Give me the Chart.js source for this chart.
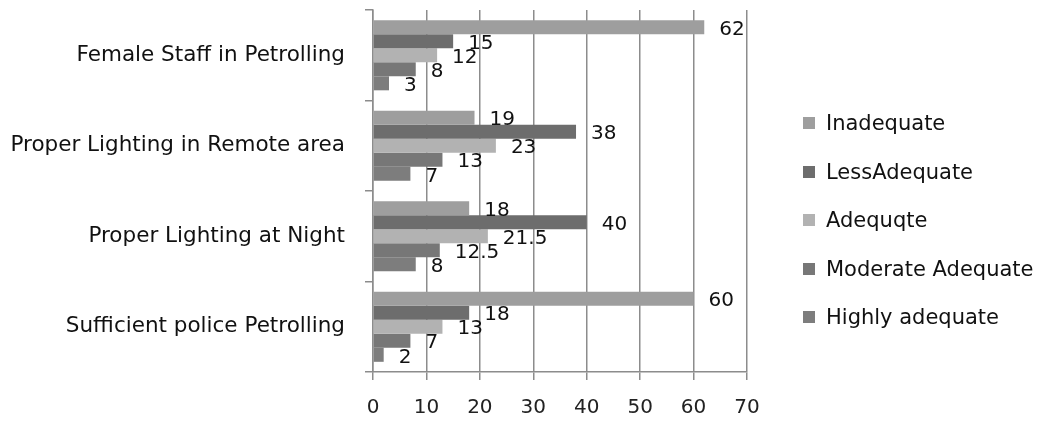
<!DOCTYPE html>
<html>
<head>
<meta charset="utf-8">
<script src="https://cdn.jsdelivr.net/npm/chart.js@4"></script>
<style>
  body { margin: 0; background: #fff; }
  #wrap { position: relative; width: 1048px; height: 428px; }
  #legend { position: absolute; left: 803px; top: 111px; font-family: "DejaVu Sans", sans-serif; font-size: 21px; color: #111; }
  #legend div { height: 48.5px; display: flex; align-items: flex-start; white-space: nowrap; }
  #legend span.box { display: inline-block; width: 12px; height: 12px; margin: 6px 11px 0 0; }
</style>
</head>
<body>
<div id="wrap">
  <canvas id="chart" width="1048" height="428"></canvas>
  <div id="legend"></div>
</div>
<script>
const categories = ["Female Staff in Petrolling", "Proper Lighting in Remote area", "Proper Lighting at Night", "Sufficient police Petrolling"];
const seriesNames = ["Inadequate", "LessAdequate", "Adequqte", "Moderate Adequate", "Highly adequate"];
const inadequate = [62, 19, 18, 60];
const lessAdequate = [15, 38, 40, 18];
const adequqte = [12, 23, 21.5, 13];
const moderateAdequate = [8, 13, 12.5, 7];
const highlyAdequate = [3, 7, 8, 2];
const xTicks = [0, 10, 20, 30, 40, 50, 60, 70];

const seriesData = [inadequate, lessAdequate, adequqte, moderateAdequate, highlyAdequate];
const colors = ["#9e9e9e", "#6d6d6d", "#b2b2b2", "#777777", "#7d7d7d"];

// draw the value next to the end of every bar
const valueLabels = {
    id: "valueLabels",
    afterDatasetsDraw(chart) {
        const ctx = chart.ctx;
        ctx.save();
        ctx.font = "20px 'DejaVu Sans'";
        ctx.fillStyle = "#111";
        ctx.textAlign = "left";
        ctx.textBaseline = "middle";
        chart.data.datasets.forEach((ds, i) => {
            chart.getDatasetMeta(i).data.forEach((bar, j) => {
                ctx.fillText(String(ds.data[j]), bar.x + 15, bar.y + 2.5);
            });
        });
        ctx.restore();
    }
};

new Chart(document.getElementById("chart"), {
    type: "bar",
    data: {
        labels: categories,
        datasets: seriesNames.map((name, i) => ({
            label: name,
            data: seriesData[i],
            backgroundColor: colors[i],
            borderWidth: 0,
            barPercentage: 1.0,
            categoryPercentage: 0.775
        }))
    },
    options: {
        indexAxis: "y",
        responsive: false,
        animation: false,
        layout: { padding: { left: 10, right: 301, top: 10, bottom: 0 } },
        plugins: { legend: { display: false }, tooltip: { enabled: false } },
        scales: {
            x: {
                min: 0,
                max: 70,
                afterBuildTicks: scale => { scale.ticks = xTicks.map(v => ({ value: v })); },
                afterFit: scale => { scale.height = 56; scale.paddingLeft = 0; scale.paddingRight = 0; },
                grid: { color: "#8c8c8c", lineWidth: 1.5, tickLength: 8 },
                border: { color: "#8c8c8c", width: 1.5 },
                ticks: { padding: 16, color: "#222", font: { family: "DejaVu Sans", size: 20 } }
            },
            y: {
                afterFit: scale => { scale.width = 363; scale.paddingTop = 0; scale.paddingBottom = 0; },
                grid: { drawOnChartArea: false, color: "#8c8c8c", lineWidth: 1.5, tickLength: 8 },
                border: { color: "#8c8c8c", width: 1.5 },
                ticks: { padding: 20, color: "#111", font: { family: "DejaVu Sans", size: 21.5 } }
            }
        }
    },
    plugins: [valueLabels]
});

const legend = document.getElementById("legend");
seriesNames.forEach((name, i) => {
    const row = document.createElement("div");
    row.innerHTML = `<span class="box" style="background:${colors[i]}"></span><span>${name}</span>`;
    legend.appendChild(row);
});
</script>
</body>
</html>
